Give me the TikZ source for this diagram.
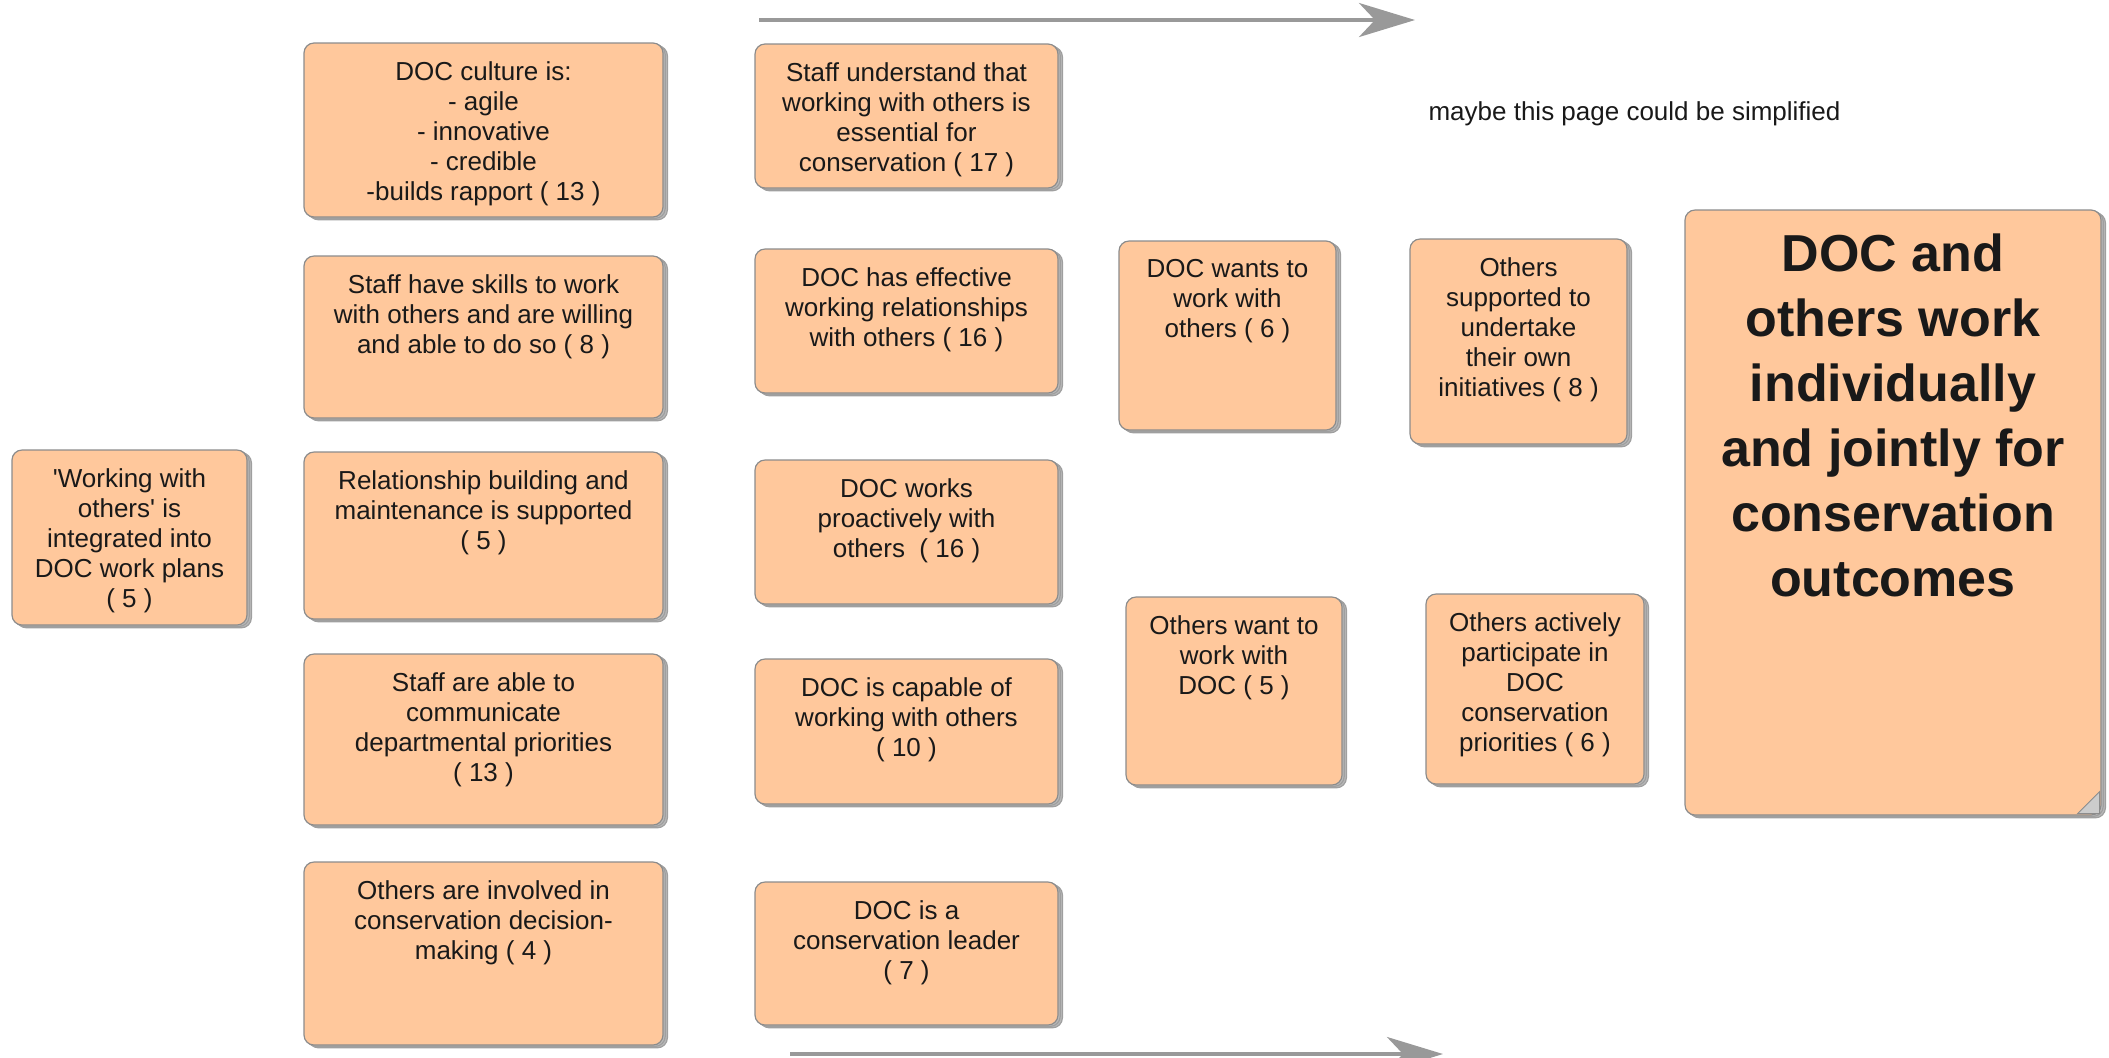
\documentclass[tikz,border=0pt]{standalone}
\usepackage{fontspec}
\setmainfont{Liberation Sans}
\usetikzlibrary{positioning, shadows, arrows.meta}
\definecolor{peach}{RGB}{255,200,156}
\definecolor{edge}{RGB}{140,140,140}
\definecolor{flowgray}{RGB}{153,153,153}
\tikzstyle{card} = [rectangle, rounded corners=5pt, draw=edge, fill=peach, line width=0.6pt,
double copy shadow={shadow xshift=1.1pt, shadow yshift=-0.7pt, fill=gray!55, draw=gray!75}]
\tikzstyle{cardtext} = [inner sep=0pt, align=center, text=black!90, font=\fontsize{13}{15}\selectfont]
\tikzstyle{bigtext} = [inner sep=0pt, align=center, text=black!90, font=\bfseries\fontsize{26}{32.5}\selectfont]
\tikzstyle{flow} = [line width=2pt, draw=flowgray, ->, >={Stealth[length=28pt,width=17pt,inset=8pt]}]

\begin{document}
\begin{tikzpicture}[x=0.5pt, y=-0.5pt]
\useasboundingbox (0,0) rectangle (2109,1057);

% first column
\node (culture) [card, minimum width=179.5pt, minimum height=87pt] at (483.5,130) {};
\node (skills) [card, minimum width=179.5pt, minimum height=81pt] at (483.5,337) {};
\node (relation) [card, minimum width=179.5pt, minimum height=83.5pt] at (483.5,535.5) {};
\node (communicate) [card, minimum width=179.5pt, minimum height=85.5pt] at (483.5,739.5) {};
\node (involved) [card, minimum width=179.5pt, minimum height=91.5pt] at (483.5,953.5) {};
\node (workplans) [card, minimum width=117.5pt, minimum height=87.5pt] at (129.5,537.5) {};

\node [cardtext, below=9.5pt of culture.north] {DOC culture is:\\- agile\\- innovative\\- credible\\-builds rapport ( 13 )};
\node [cardtext, below=9.5pt of skills.north] {Staff have skills to work\\with others and are willing\\and able to do so ( 8 )};
\node [cardtext, below=9.5pt of relation.north] {Relationship building and\\maintenance is supported\\( 5 )};
\node [cardtext, below=9.5pt of communicate.north] {Staff are able to\\communicate\\departmental priorities\\( 13 )};
\node [cardtext, below=9.5pt of involved.north] {Others are involved in\\conservation decision-\\making ( 4 )};
\node [cardtext, below=9.5pt of workplans.north] {\textquotesingle Working with\\others\textquotesingle{} is\\integrated into\\DOC work plans\\( 5 )};

% second column
\node (understand) [card, minimum width=151.5pt, minimum height=72pt] at (906.5,116) {};
\node (effective) [card, minimum width=151.5pt, minimum height=72pt] at (906.5,321) {};
\node (proactive) [card, minimum width=151.5pt, minimum height=72pt] at (906.5,532) {};
\node (capable) [card, minimum width=151.5pt, minimum height=72.5pt] at (906.5,731.5) {};
\node (leader) [card, minimum width=151.5pt, minimum height=71.5pt] at (906.5,953.5) {};

\node [cardtext, below=9.5pt of understand.north] {Staff understand that\\working with others is\\essential for\\conservation ( 17 )};
\node [cardtext, below=9.5pt of effective.north] {DOC has effective\\working relationships\\with others ( 16 )};
\node [cardtext, below=9.5pt of proactive.north] {DOC works\\proactively with\\others\ \ ( 16 )};
\node [cardtext, below=9.5pt of capable.north] {DOC is capable of\\working with others\\( 10 )};
\node [cardtext, below=9.5pt of leader.north] {DOC is a\\conservation leader\\( 7 )};

% third and fourth columns
\node (docwants) [card, minimum width=108.5pt, minimum height=94.5pt] at (1227.5,335.5) {};
\node (otherswant) [card, minimum width=108pt, minimum height=94pt] at (1234,691) {};
\node (supported) [card, minimum width=108.5pt, minimum height=102.5pt] at (1518.5,341.5) {};
\node (actively) [card, minimum width=109pt, minimum height=95pt] at (1535,689) {};

\node [cardtext, below=9.5pt of docwants.north] {DOC wants to\\work with\\others ( 6 )};
\node [cardtext, below=9.5pt of otherswant.north] {Others want to\\work with\\DOC ( 5 )};
\node [cardtext, below=9.5pt of supported.north] {Others\\supported to\\undertake\\their own\\initiatives ( 8 )};
\node [cardtext, below=9.5pt of actively.north] {Others actively\\participate in\\DOC\\conservation\\priorities ( 6 )};

% outcome
\node (outcome) [card, minimum width=208pt, minimum height=302.5pt] at (1893,512.5) {};
\node [bigtext, below=12pt of outcome.north] {DOC and\\others work\\individually\\and jointly for\\conservation\\outcomes};
\filldraw [fill=gray!40, draw=edge, line width=0.4pt] ([shift={(-1pt,1pt)}]outcome.south east) -- ++(-11pt,0) -- ++(11pt,11pt) -- cycle;

\node (remark) [cardtext] at (1634.5,114) {maybe this page could be simplified};

% arrows
\coordinate (topstart) at (759,20);
\coordinate (topend) at (1415,20);
\coordinate (botstart) at (790,1054);
\coordinate (botend) at (1443,1054);
\draw [flow] (topstart) -- (topend);
\draw [flow] (botstart) -- (botend);

\end{tikzpicture}
\end{document}
